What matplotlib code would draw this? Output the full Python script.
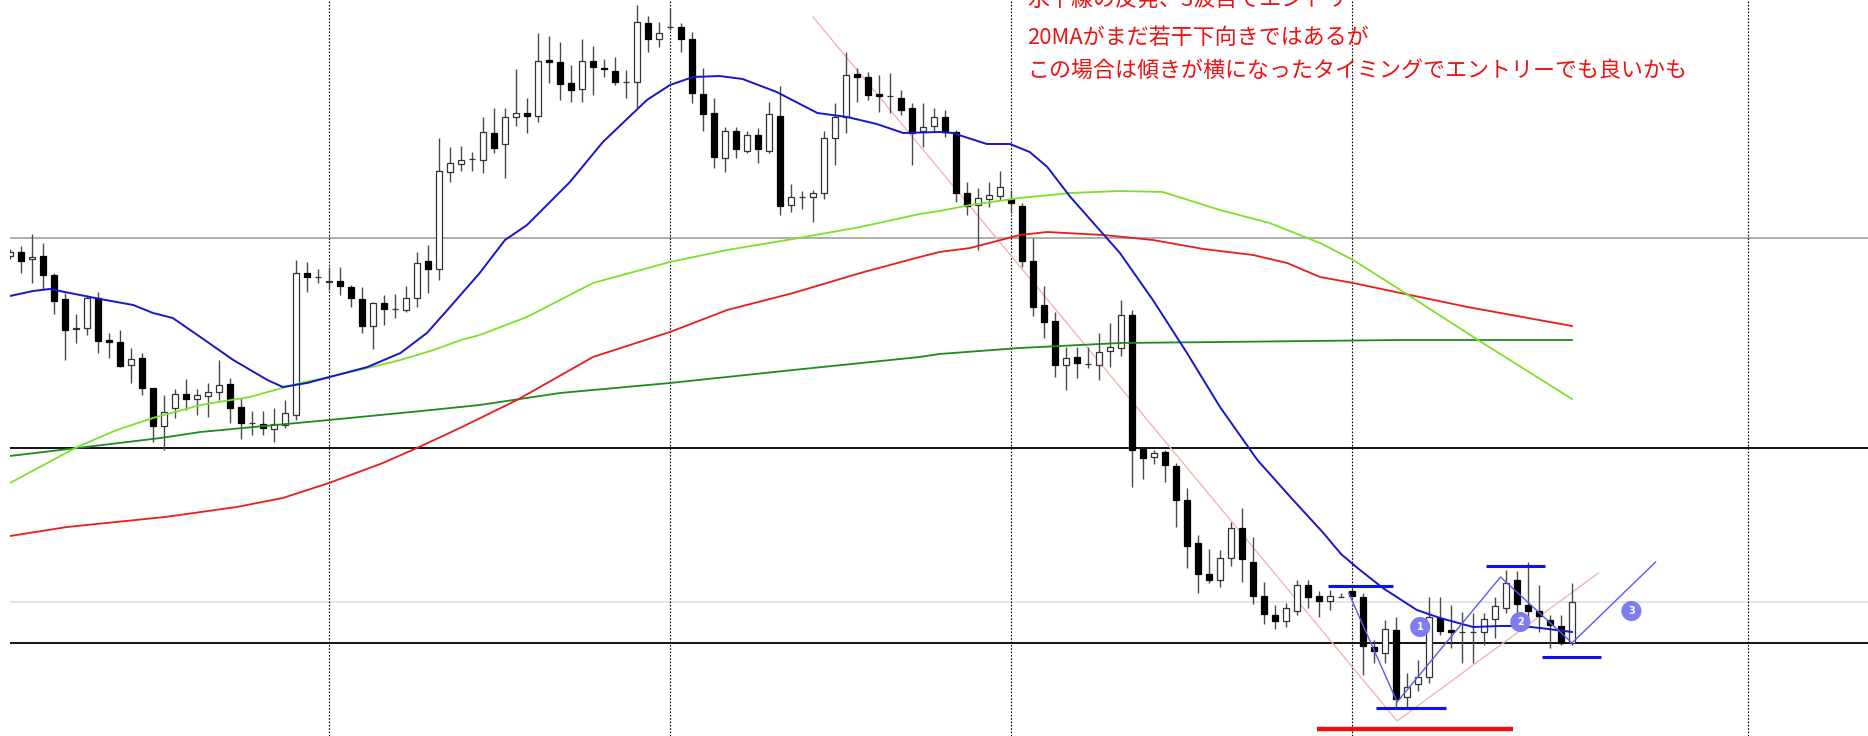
import numpy as np
import matplotlib
matplotlib.use("Agg")
import matplotlib.pyplot as plt

plt.rcParams['font.family'] = ['Noto Sans CJK JP', 'DejaVu Sans']

# candle data (screen units, larger = lower price)
opens = [256, 252, 259, 256, 275, 299, 329, 328, 298, 340,
         342, 365, 358, 388, 426, 408, 394, 399, 396, 392,
         384, 407, 423, 424, 429, 425, 415, 273, 277, 282,
         281, 287, 299, 326, 303, 309, 310, 298, 261, 269,
         172, 164, 159, 160, 133, 144, 117, 113, 116, 60,
         62, 83, 89, 61, 68, 71, 82, 82, 23, 39,
         27, 27, 39, 94, 113, 158, 131, 151, 135, 151,
         116, 205, 197, 197, 193, 138, 117, 74, 77, 94,
         96, 98, 108, 131, 126, 117, 132, 193, 205, 199,
         196, 199, 206, 261, 305, 321, 365, 357, 364, 365,
         351, 348, 315, 449, 457, 452, 466, 500, 543, 574,
         580, 558, 528, 562, 596, 615, 621, 611, 585, 596,
         601, 597, 591, 597, 647, 653, 630, 697, 684, 677,
         618, 630, 632, 632, 632, 619, 608, 580, 605, 611,
         620, 626, 643]
highs = [249, 246, 234, 243, 273, 293, 314, 295, 292, 333,
         330, 348, 353, 388, 395, 389, 379, 389, 383, 360,
         378, 398, 411, 411, 408, 400, 260, 262, 269, 267,
         267, 285, 287, 302, 295, 294, 286, 252, 245, 138,
         147, 146, 152, 117, 108, 108, 69, 98, 33, 36,
         42, 65, 39, 46, 59, 57, 70, 5, 16, 22,
         8, 23, 32, 68, 98, 127, 127, 131, 128, 102,
         86, 184, 191, 190, 131, 103, 52, 68, 72, 75,
         73, 90, 103, 103, 108, 110, 130, 182, 188, 182,
         171, 190, 203, 238, 286, 312, 347, 347, 347, 333,
         323, 300, 310, 448, 450, 450, 463, 488, 535, 549,
         550, 522, 508, 537, 582, 605, 603, 580, 580, 591,
         590, 593, 589, 593, 640, 620, 617, 673, 660, 597,
         597, 605, 612, 613, 613, 597, 570, 571, 562, 585,
         615, 615, 583]
lows = [259, 273, 283, 289, 314, 360, 343, 335, 353, 358,
        367, 383, 395, 442, 450, 418, 410, 415, 417, 400,
        423, 439, 435, 435, 442, 428, 420, 292, 283, 290,
        295, 307, 333, 349, 325, 318, 312, 307, 293, 280,
        182, 171, 171, 173, 153, 178, 126, 133, 122, 83,
        100, 102, 102, 95, 77, 85, 98, 108, 52, 47,
        30, 52, 103, 131, 168, 172, 158, 153, 163, 153,
        215, 212, 209, 222, 199, 165, 133, 102, 100, 112,
        113, 115, 165, 147, 132, 137, 202, 215, 250, 207,
        200, 213, 267, 316, 338, 377, 390, 378, 368, 380,
        367, 356, 487, 479, 464, 482, 527, 568, 593, 583,
        587, 566, 582, 604, 624, 629, 627, 615, 608, 617,
        610, 597, 597, 675, 663, 663, 708, 708, 691, 683,
        635, 648, 663, 663, 645, 638, 613, 620, 627, 632,
        648, 645, 645]
closes = [252, 261, 257, 275, 301, 330, 328, 298, 341, 342,
          366, 359, 388, 426, 412, 394, 399, 395, 392, 385,
          408, 423, 423, 428, 424, 413, 273, 277, 277, 281,
          286, 298, 326, 303, 309, 309, 298, 263, 269, 171,
          163, 160, 159, 132, 148, 117, 113, 116, 61, 62,
          84, 90, 61, 67, 69, 82, 82, 22, 39, 33,
          27, 39, 93, 114, 157, 131, 149, 135, 149, 114,
          206, 197, 197, 193, 138, 117, 75, 77, 95, 96,
          96, 110, 133, 127, 117, 132, 193, 206, 198, 195,
          187, 203, 261, 307, 322, 365, 358, 363, 364, 352,
          347, 315, 450, 458, 453, 465, 500, 546, 574, 580,
          558, 528, 559, 596, 614, 621, 608, 585, 597, 601,
          596, 597, 596, 646, 651, 629, 699, 687, 677, 617,
          631, 632, 632, 632, 619, 606, 583, 604, 611, 616,
          625, 643, 602]

# moving averages, read at candle positions
ma20_x = [1, 3.1, 4.6, 9.2, 12.2, 14, 15.8, 18.3, 21.3, 24.4, 25.8, 28, 30.4, 33.5,
          36.5, 38.9, 41, 43.7, 46, 48, 51.9, 54.9, 58.9, 61, 63.1, 65.5, 67.6, 70.7,
          74.4, 77.1, 79.8, 82.2, 85.5, 86.7, 89.8, 91.9, 93.7, 95.3, 97.4, 101.9,
          104.9, 108, 111, 114.4, 117.4, 120.4, 122, 123.5, 125.8, 128.9, 131, 134,
          136.5, 138.3, 140.1, 143]
ma20_y = [296, 291, 289, 299, 305, 313, 318, 337, 360, 380, 387, 383, 376, 367,
          353, 333, 307, 273, 240, 225, 182, 142, 100, 85, 77, 76, 79, 92,
          113, 117, 124, 133, 132, 133, 144, 144, 152, 167, 197, 253,
          300, 353, 407, 460, 497, 533, 554, 568, 588, 610, 618, 627,
          626, 626, 628, 632]
ma75_x = [1, 7.1, 10.7, 14, 18.3, 22.8, 27.4, 30.4, 33.5, 36.5, 39.5, 42, 43.7,
          48, 54, 61, 66.2, 72.2, 78.3, 83.7, 85.5, 88.3, 92.8, 97.4, 101.9, 105.8,
          111, 115.5, 120.1, 123.1, 127.4, 134.6, 143]
ma75_y = [483, 447, 430, 418, 405, 397, 383, 376, 368, 360, 350, 340, 335,
          317, 283, 262, 250, 239, 227, 214, 211, 205, 198, 193, 191, 192,
          210, 223, 243, 260, 290, 341, 399]
ma100_x = [1, 6.2, 15.1, 21.6, 25.8, 30, 34.9, 38, 41.9, 47.1, 54, 61, 66.2, 72.2,
           78.3, 83.7, 85.5, 88.3, 92.8, 95.3, 100.4, 104.9, 109.5, 114, 117.1,
           120.1, 123.1, 127.4, 133.5, 143]
ma100_y = [536, 527, 517, 507, 498, 483, 463, 448, 428, 400, 357, 332, 310, 293,
           273, 257, 252, 248, 235, 232, 235, 240, 249, 255, 263,
           277, 283, 293, 307, 326]
ma200_x = [1, 7.1, 14.7, 18.3, 30, 38.4, 43.7, 51, 61, 72.2, 83.7, 85.5, 92.8,
           101.9, 111, 127.4, 143]
ma200_y = [456, 448, 438, 432, 420, 411, 405, 393, 383, 370, 357, 354, 348,
           343, 342, 340, 340]

# drawn objects
hlines_y = [238, 448, 602, 643]
hlines_c = ['#a8a8a8', 'black', '#e2e2e2', 'black']
vlines_x = [30, 61, 92, 123, 159]
trend_x = [74, 127.1, 145.4]
trend_y = [17, 721, 573]
wave_x = [122.7, 127.1, 136.5, 143, 150.6]
wave_y = [593, 702, 577, 643, 562]
seg_x0 = [120.8, 125.2, 135.2, 140.3]
seg_x1 = [126.7, 131.5, 140.5, 145.6]
seg_y = [586, 708, 566, 657]
low_x = [119.8, 137.6]
low_y = 729
mark_x = [129.2, 138.3, 148.4]
mark_y = [627, 622, 611]
mark_t = ['1', '2', '3']
notes = ['水平線の反発、3波目でエントリー',
         '20MAがまだ若干下向きではあるが',
         'この場合は傾きが横になったタイミングでエントリーでも良いかも']
notes_y = [0, 38, 71]

fig = plt.figure(figsize=(18.68, 7.36), dpi=100)
ax = fig.add_axes([10 / 1868, 0, 1858 / 1868, 1])
ax.set_xlim(1, 1 + 1858 / 11)
ax.set_ylim(736, 0)
ax.axis('off')

for y, c in zip(hlines_y, hlines_c):
    ax.axhline(y, color=c, lw=1.3, zorder=1)
for x in vlines_x:
    ax.axvline(x, color='black', lw=0.8, linestyle=(0, (1.5, 1.5)), zorder=1)

o = np.array(opens)
h = np.array(highs)
l = np.array(lows)
c = np.array(closes)
idx = np.arange(1, len(o) + 1)
bull = c <= o
ax.vlines(idx, h, l, color='#4a4a4a', lw=1, zorder=3)
body_h = np.maximum(np.abs(o - c), 0.01)
ax.bar(idx, body_h, bottom=np.minimum(o, c), width=0.62,
       color=np.where(bull, 'white', 'black'),
       edgecolor=np.where(bull, '#333333', 'black'), lw=0.9, zorder=4)

ax.plot(ma200_x, ma200_y, color='#1f8a1f', lw=1.3, zorder=5)
ax.plot(ma100_x, ma100_y, color='#e81c1c', lw=1.3, zorder=5)
ax.plot(ma75_x, ma75_y, color='#7ee02a', lw=1.3, zorder=5)
ax.plot(ma20_x, ma20_y, color='#1616cc', lw=1.4, zorder=5)

ax.plot(trend_x, trend_y, color='#f4b4b4', lw=1, zorder=2)
ax.plot(wave_x, wave_y, color='#5a5af0', lw=1, zorder=6)
ax.hlines(seg_y, seg_x0, seg_x1, color='#1010ee', lw=2.2, zorder=6)
ax.hlines(low_y, low_x[0], low_x[1], color='#ee1010', lw=3.2, zorder=6)

ax.scatter(mark_x, mark_y, s=210, color='#7d7df0', edgecolors='none', zorder=7)
for x, y, t in zip(mark_x, mark_y, mark_t):
    ax.text(x, y, t, color='white', fontsize=7, fontweight='bold',
            ha='center', va='center', family=['DejaVu Sans'], zorder=8)

for y, t in zip(notes_y, notes):
    ax.text(93.5, y, t, color='#ee1111', fontsize=15.8, ha='left', va='center',
            zorder=8)

fig.savefig('out.png', dpi=100, facecolor='white')
